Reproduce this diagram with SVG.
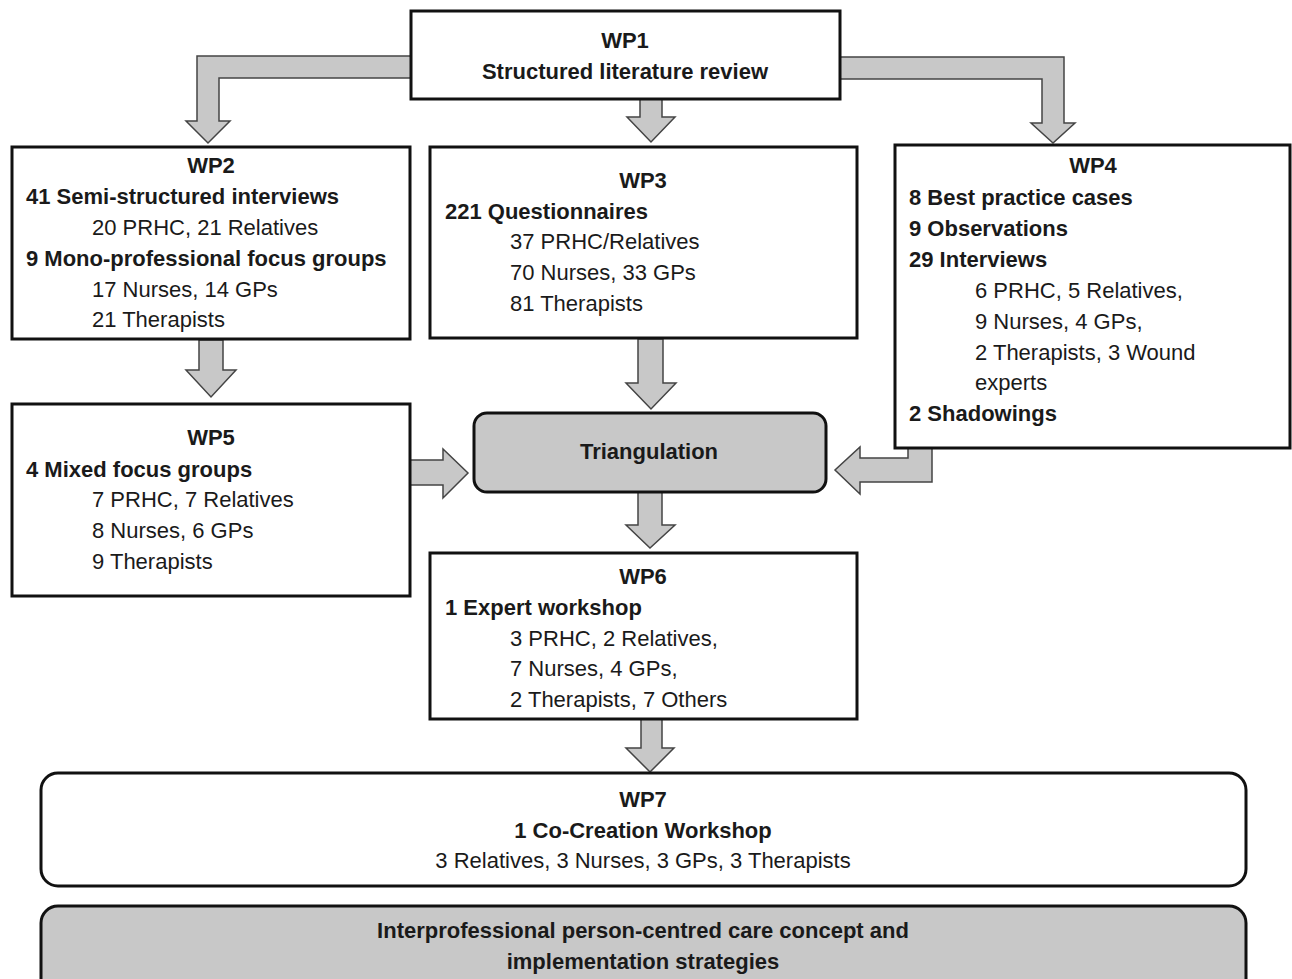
<svg xmlns="http://www.w3.org/2000/svg" width="1292" height="979" viewBox="0 0 1292 979">
<style>
.box{fill:#ffffff;stroke:#111;stroke-width:3}
.gbox{fill:#c8c8c8;stroke:#111;stroke-width:3}
.arr{fill:#c8c8c8;stroke:#444;stroke-width:1.5;stroke-linejoin:miter}
text{font-family:"Liberation Sans",Arial,sans-serif;font-size:22px;fill:#1a1a1a}
.b{font-weight:bold}
.c{text-anchor:middle}
</style>
<rect width="1292" height="979" fill="#ffffff"/>
<g id="connectors">
<polygon class="arr" points="411,56 197,56 197,121 186,121 208,143 230,121 219,121 219,78 411,78"/>
<polygon class="arr" points="840,57 1064,57 1064,123 1075,123 1053,143 1031,123 1042,123 1042,79 840,79"/>
<polygon class="arr" points="640,99 640,117 627,117 651,142 675,117 662,117 662,99"/>
<polygon class="arr" points="199,340 199,370 186,370 211,397 236,370 223,370 223,340"/>
<polygon class="arr" points="638,339 638,383 626,383 651,409 676,383 663,383 663,339"/>
<polygon class="arr" points="638,492 638,525 626,525 650,548 675,525 662,525 662,492"/>
<polygon class="arr" points="641,719 641,748 626,748 650,772 674,748 662,748 662,719"/>
<polygon class="arr" points="410,460 443,460 443,449 468,473 443,498 443,485 410,485"/>
<polygon class="arr" points="932,448 932,482 860,482 860,494 835,470 860,447 860,458 908,458 908,448"/>
</g>
<g id="wp1">
<rect class="box" x="411" y="11" width="429" height="88"/>
<text class="b c" x="625" y="48">WP1</text>
<text class="b c" x="625" y="79">Structured literature review</text>
</g>
<g id="wp2">
<rect class="box" x="12" y="147" width="398" height="192"/>
<text class="b c" x="211" y="173">WP2</text>
<text class="b" x="26" y="204">41 Semi-structured interviews</text>
<text x="92" y="235">20 PRHC, 21 Relatives</text>
<text class="b" x="26" y="266">9 Mono-professional focus groups</text>
<text x="92" y="297">17 Nurses, 14 GPs</text>
<text x="92" y="327">21 Therapists</text>
</g>
<g id="wp3">
<rect class="box" x="430" y="147" width="427" height="191"/>
<text class="b c" x="643" y="188">WP3</text>
<text class="b" x="445" y="219">221 Questionnaires</text>
<text x="510" y="249">37 PRHC/Relatives</text>
<text x="510" y="280">70 Nurses, 33 GPs</text>
<text x="510" y="311">81 Therapists</text>
</g>
<g id="wp4">
<rect class="box" x="895" y="145" width="395" height="303"/>
<text class="b c" x="1093" y="173">WP4</text>
<text class="b" x="909" y="205">8 Best practice cases</text>
<text class="b" x="909" y="236">9 Observations</text>
<text class="b" x="909" y="267">29 Interviews</text>
<text x="975" y="298">6 PRHC, 5 Relatives,</text>
<text x="975" y="329">9 Nurses, 4 GPs,</text>
<text x="975" y="360">2 Therapists, 3 Wound</text>
<text x="975" y="390">experts</text>
<text class="b" x="909" y="421">2 Shadowings</text>
</g>
<g id="wp5">
<rect class="box" x="12" y="404" width="398" height="192"/>
<text class="b c" x="211" y="445">WP5</text>
<text class="b" x="26" y="477">4 Mixed focus groups</text>
<text x="92" y="507">7 PRHC, 7 Relatives</text>
<text x="92" y="538">8 Nurses, 6 GPs</text>
<text x="92" y="569">9 Therapists</text>
</g>
<g id="triangulation">
<rect class="gbox" x="474" y="413" width="352" height="79" rx="13"/>
<text class="b c" x="649" y="459">Triangulation</text>
</g>
<g id="wp6">
<rect class="box" x="430" y="553" width="427" height="166"/>
<text class="b c" x="643" y="584">WP6</text>
<text class="b" x="445" y="615">1 Expert workshop</text>
<text x="510" y="646">3 PRHC, 2 Relatives,</text>
<text x="510" y="676">7 Nurses, 4 GPs,</text>
<text x="510" y="707">2 Therapists, 7 Others</text>
</g>
<g id="wp7">
<rect class="box" x="41" y="773" width="1205" height="113" rx="17"/>
<text class="b c" x="643" y="807">WP7</text>
<text class="b c" x="643" y="838">1 Co-Creation Workshop</text>
<text class="c" x="643" y="868">3 Relatives, 3 Nurses, 3 GPs, 3 Therapists</text>
</g>
<g id="result">
<rect class="gbox" x="41" y="906" width="1205" height="90" rx="17"/>
<text class="b c" x="643" y="938">Interprofessional person-centred care concept and</text>
<text class="b c" x="643" y="969">implementation strategies</text>
</g>
</svg>
